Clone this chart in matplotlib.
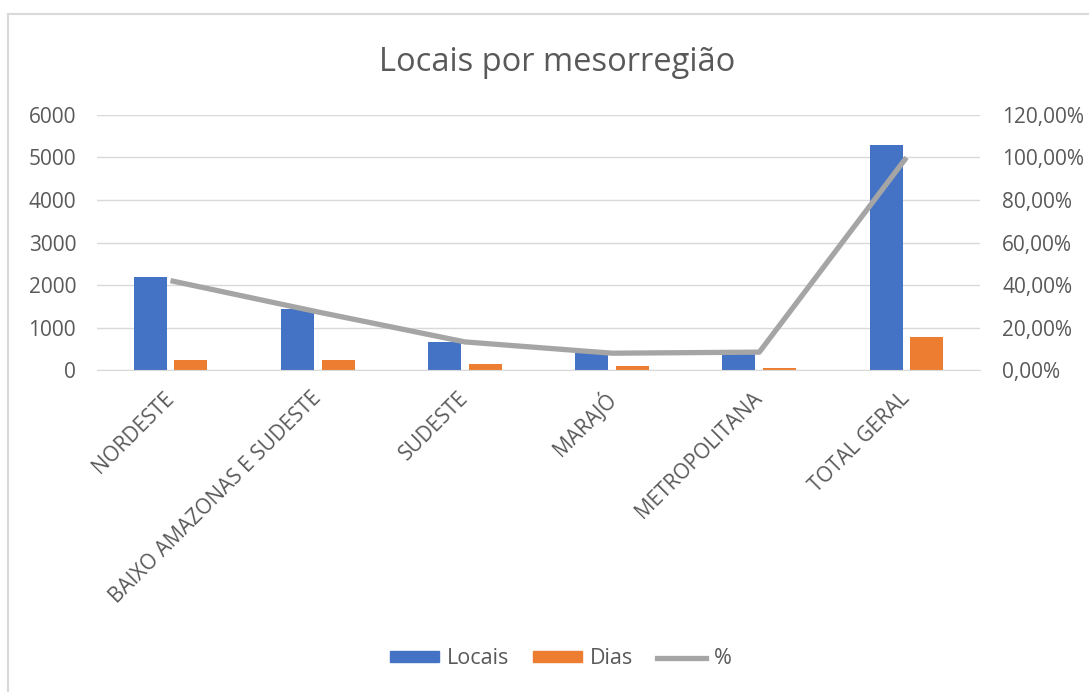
import matplotlib
matplotlib.use("Agg")
import matplotlib.pyplot as plt
import numpy as np
from matplotlib.patches import Patch
from matplotlib.lines import Line2D
from matplotlib.ticker import FuncFormatter

plt.rcParams["font.family"] = ["Open Sans", "DejaVu Sans"]

# ── Data ──────────────────────────────────────────────────────────────
regioes = ["NORDESTE", "BAIXO AMAZONAS E SUDESTE", "SUDESTE",
           "MARAJÓ", "METROPOLITANA", "TOTAL GERAL"]
locais = [2200, 1440, 670, 420, 400, 5290]
dias = [235, 235, 140, 95, 55, 775]
percentual = [0.421, 0.274, 0.133, 0.080, 0.085, 1.00]

C_BLUE = "#4472C4"
C_ORANGE = "#ED7D31"
C_GRAY = "#A5A5A5"
C_TEXT = "#595959"
C_GRID = "#D9D9D9"
FS = 15

fig = plt.figure(figsize=(10.89, 6.92), dpi=100, facecolor="white")
ax = fig.add_axes([0.089, 0.465, 0.811, 0.369])
ax2 = ax.twinx()

x = np.arange(len(regioes))
bw = 0.224
off = 0.139
ax.bar(x - off, locais, bw, color=C_BLUE, zorder=2)
ax.bar(x + off, dias, bw, color=C_ORANGE, zorder=2)

ax2.plot(x, percentual, color=C_GRAY, lw=3.8, solid_joinstyle="round",
         solid_capstyle="butt", zorder=3)

ax.set_xlim(-0.5, len(regioes) - 0.5)
ax.set_ylim(0, 6000)
ax.set_yticks(range(0, 6001, 1000))
ax2.set_ylim(0, 1.2)
ax2.set_yticks(np.arange(0, 1.21, 0.2))
ax2.yaxis.set_major_formatter(
    FuncFormatter(lambda v, _: f"{v * 100:.2f}%".replace(".", ",")))

ax.grid(axis="y", color=C_GRID, lw=1.0, zorder=0)
ax.set_axisbelow(True)
for a in (ax, ax2):
    for s in a.spines.values():
        s.set_visible(False)
    a.tick_params(length=0, labelsize=FS, labelcolor=C_TEXT)
ax.spines["bottom"].set_visible(True)
ax.spines["bottom"].set_color(C_GRID)
ax.tick_params(axis="y", pad=15)
ax2.tick_params(axis="y", pad=16)

ax.set_xticks(x)
ax.set_xticklabels(regioes, rotation=45, ha="right", va="center",
                   rotation_mode="anchor", fontsize=FS, color=C_TEXT)
ax.tick_params(axis="x", pad=18)

fig.text(0.5115, 0.91, "Locais por mesorregião", ha="center", va="center",
         fontsize=23.5, color=C_TEXT)

handles = [Patch(color=C_BLUE, label="Locais"),
           Patch(color=C_ORANGE, label="Dias"),
           Line2D([], [], color=C_GRAY, lw=3.8, label="%")]
fig.legend(handles=handles, loc="center", bbox_to_anchor=(0.515, 0.048),
           ncol=3, frameon=False, fontsize=15.5, labelcolor=C_TEXT,
           handlelength=2.3, handleheight=0.4, handletextpad=0.35,
           columnspacing=1.1)

# thin outer frame on the left and top edges
fig.add_artist(Line2D([0.007, 0.007], [0, 0.98], transform=fig.transFigure,
                      color="#D9D9D9", lw=1.5))
fig.add_artist(Line2D([0.007, 1.0], [0.98, 0.98], transform=fig.transFigure,
                      color="#D9D9D9", lw=1.5))

fig.savefig("out.png", dpi=100, facecolor="white")
